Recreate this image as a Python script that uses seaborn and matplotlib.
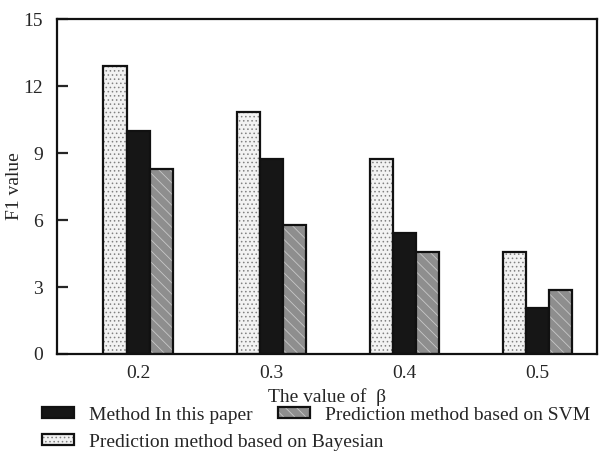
import matplotlib
matplotlib.use("Agg")
import matplotlib.pyplot as plt
from matplotlib.colors import to_rgba
from matplotlib.patches import Patch
import pandas as pd
import seaborn as sns

betas = ["0.2", "0.3", "0.4", "0.5"]
bayesian = [12.9, 10.85, 8.75, 4.55]
ours = [10.0, 8.75, 5.4, 2.05]
svm = [8.3, 5.8, 4.55, 2.85]

NAMES = ["Prediction method based on Bayesian",
         "Method In this paper",
         "Prediction method based on SVM"]

data = pd.DataFrame({
    "beta": betas * 3,
    "F1": bayesian + ours + svm,
    "Method": [NAMES[0]] * 4 + [NAMES[1]] * 4 + [NAMES[2]] * 4,
})

sns.set_style("ticks")
plt.rcParams["font.family"] = ["Liberation Serif", "DejaVu Serif"]
plt.rcParams["hatch.linewidth"] = 0.6

FS = 14
fills = {NAMES[0]: "#f2f2f2", NAMES[1]: "#161616", NAMES[2]: "#8e8e8e"}
hatches = {NAMES[0]: "....", NAMES[1]: "", NAMES[2]: "\\\\\\"}
hatch_cols = {NAMES[0]: "#808080", NAMES[1]: "#161616", NAMES[2]: "#c8c8c8"}

fig = plt.figure(figsize=(5.99, 4.57), dpi=100)
ax = fig.add_axes([0.095, 0.2254, 0.902, 0.7326])

sns.barplot(data=data, x="beta", y="F1", hue="Method", hue_order=NAMES,
            palette=fills, width=0.52, saturation=1, ax=ax, legend=False)

for cont, name in zip(ax.containers, NAMES):
    for p in cont:
        p.set_hatch(hatches[name])
        p.set_edgecolor("#111111")
        p.set_linewidth(1.6)
        p._hatch_color = to_rgba(hatch_cols[name])

ax.set_ylim(0, 15)
ax.set_yticks([0, 3, 6, 9, 12, 15])
ax.set_xlim(-0.61, 3.45)
ax.tick_params(axis="y", direction="in", length=8, width=1.6, labelsize=FS, pad=10)
ax.tick_params(axis="x", length=0, labelsize=FS, pad=8)
for s in ax.spines.values():
    s.set_linewidth(1.6)
    s.set_color("#111111")
ax.set_xlabel("The value of  β", fontsize=FS, labelpad=4)
ax.set_ylabel("F1 value", fontsize=FS, labelpad=0)


def handle(name):
    return Patch(facecolor=fills[name], edgecolor="#111111",
                 hatch=hatches[name], linewidth=1.6)


def add_legend(names, y):
    leg = fig.legend([handle(n) for n in names], names, ncol=len(names),
                     frameon=False, loc="upper left",
                     bbox_to_anchor=(0.07, y), borderpad=0, borderaxespad=0,
                     fontsize=FS, handlelength=1.65, handleheight=0.5,
                     columnspacing=1.29, handletextpad=0.77)
    for h, n in zip(leg.get_patches(), names):
        h._hatch_color = to_rgba(hatch_cols[n])
    return leg


add_legend([NAMES[1], NAMES[2]], 0.110)
add_legend([NAMES[0]], 0.051)

fig.savefig("out.png", dpi=100)
